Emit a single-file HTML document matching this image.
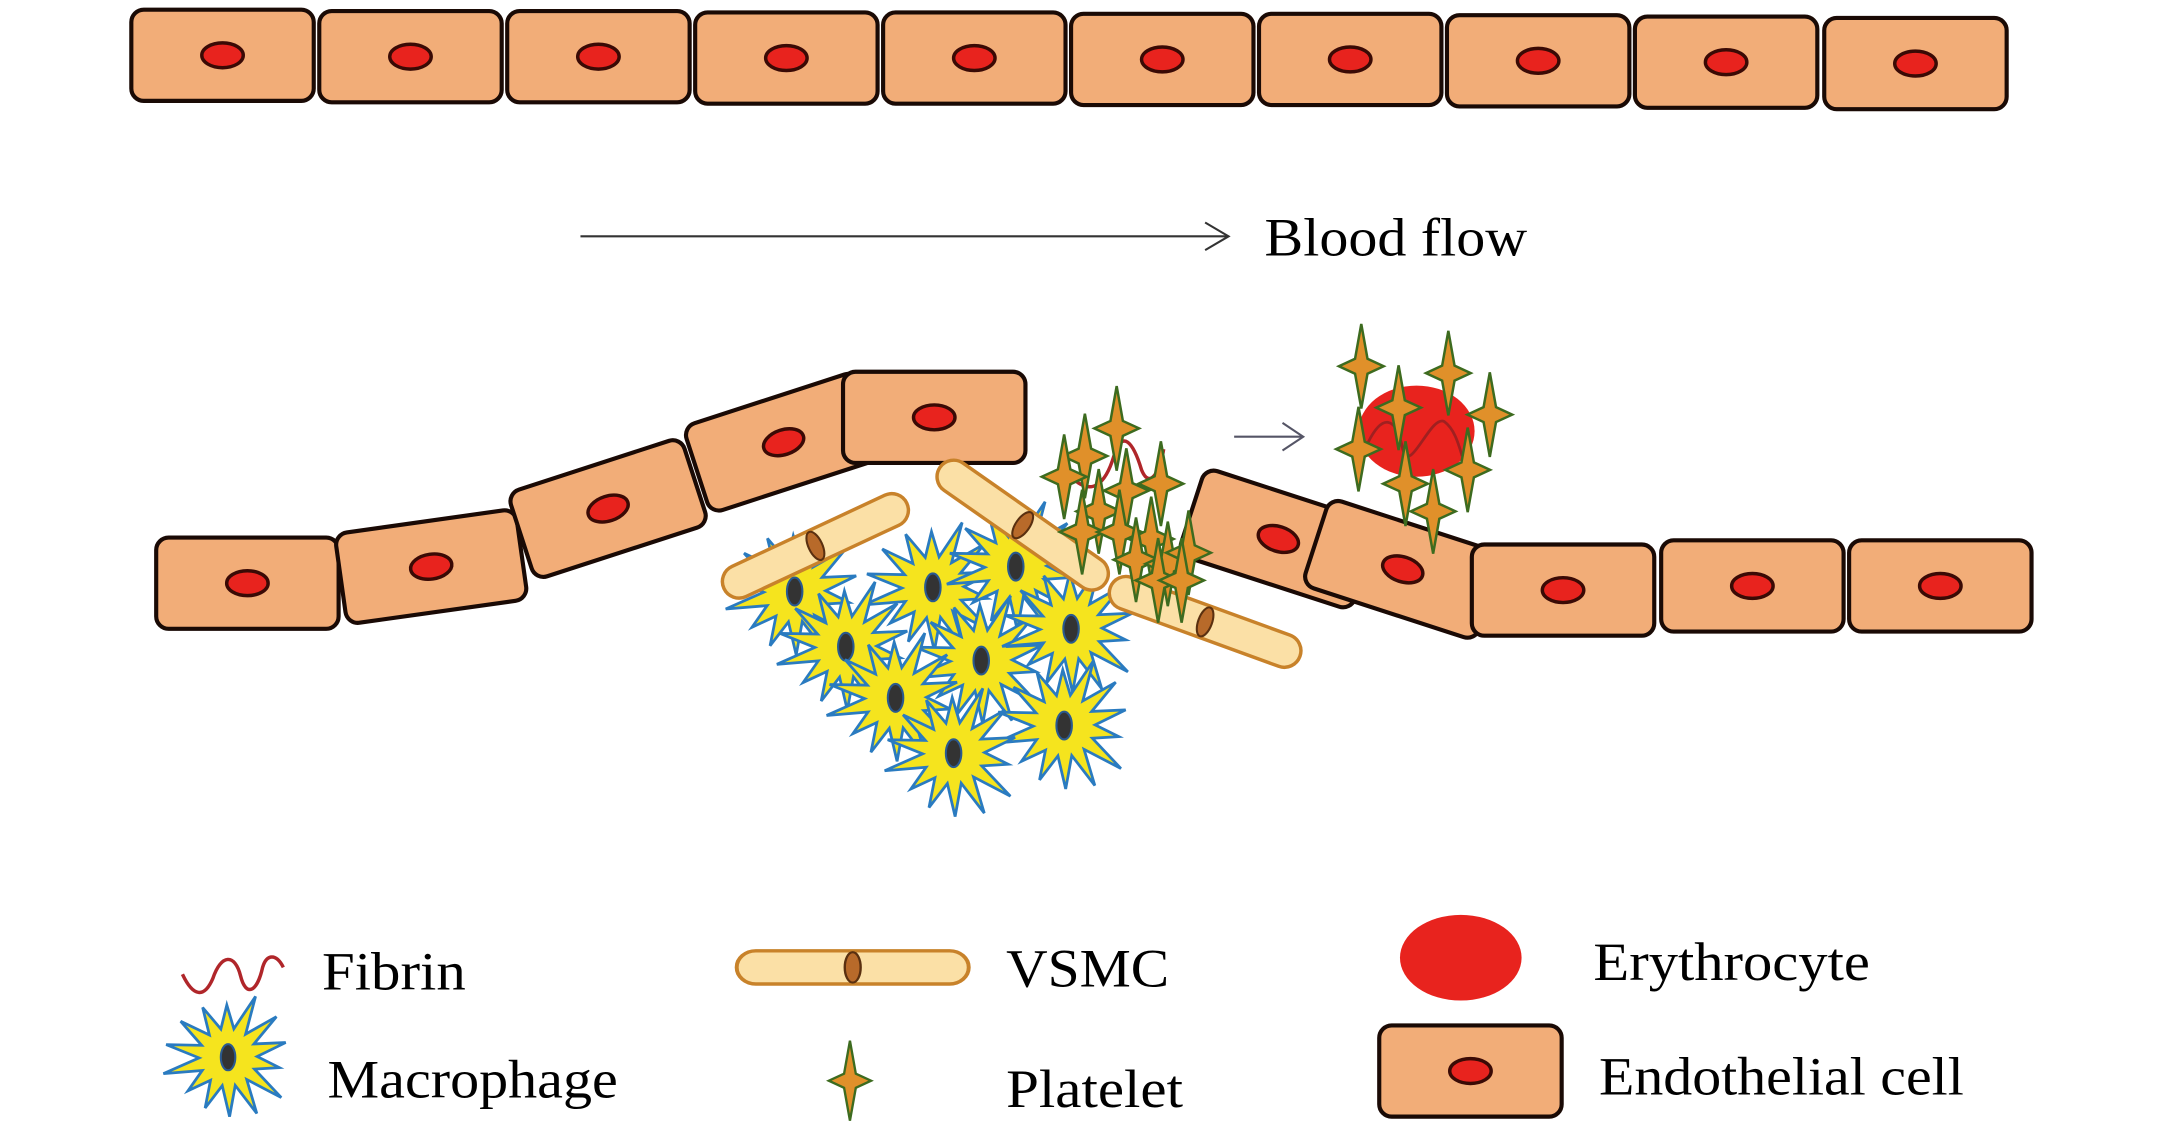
<!DOCTYPE html>
<html><head><meta charset="utf-8"><style>html,body{margin:0;padding:0;background:#fff;}svg{display:block}</style></head>
<body>
<svg id="s" width="2167" height="1127" viewBox="0 0 1568 815.5" xmlns="http://www.w3.org/2000/svg" font-family="Liberation Serif, serif">
<defs>
<g id="cell"><rect x="-66" y="-33" width="132" height="66" rx="9" fill="#f2ad78" stroke="#1a0a05" stroke-width="3"/><ellipse cx="0" cy="0" rx="15" ry="9" fill="#e8231e" stroke="#3a0a05" stroke-width="2.5"/></g>
<g id="vsmc"><rect x="-73" y="-12" width="146" height="24" rx="12" fill="#fbe0a6" stroke="#c8822a" stroke-width="2.5"/><ellipse cx="0" cy="0" rx="5" ry="11" fill="#b86a2a" stroke="#5a3010" stroke-width="1.5"/></g>
<g id="plt"><path d="M0,-34 L5,-6 L18,0 L5,6 L0,34 L-5,6 L-18,0 L-5,-6 Z" fill="#e0902a" stroke="#3d6b1f" stroke-width="2"/></g>
</defs>
<g id="topg"></g>
<line x1="420" y1="171" x2="888" y2="171" stroke="#333" stroke-width="1.5"/>
<polyline points="872,161 889,171 872,181" fill="none" stroke="#333" stroke-width="1.5"/>
<text x="915" y="185" font-size="39" textLength="190" lengthAdjust="spacingAndGlyphs">Blood flow</text>
<line x1="893" y1="316" x2="942" y2="316" stroke="#556" stroke-width="1.5"/>
<polyline points="928,306 943,316 928,326" fill="none" stroke="#556" stroke-width="1.5"/>
<g id="midg"></g>
<g id="legend">
<path d="M132,705 C140,722 148,722 154,708 C160,690 170,690 174,706 C178,722 186,718 190,700 C193,690 200,690 205,700" fill="none" stroke="#b0262a" stroke-width="2.5"/>
<text x="233" y="716" font-size="39" textLength="104" lengthAdjust="spacingAndGlyphs">Fibrin</text>
<text x="237" y="794" font-size="39" textLength="210" lengthAdjust="spacingAndGlyphs">Macrophage</text>
<use href="#vsmc" transform="translate(617,700) scale(1.15,1)"/>
<text x="728" y="714" font-size="39" textLength="118" lengthAdjust="spacingAndGlyphs">VSMC</text>
<use href="#plt" transform="translate(615,782) scale(0.85)"/>
<text x="728" y="801" font-size="39" textLength="128" lengthAdjust="spacingAndGlyphs">Platelet</text>
<ellipse cx="1057" cy="693" rx="44" ry="31" fill="#e8231e"/>
<text x="1153" y="709" font-size="39" textLength="200" lengthAdjust="spacingAndGlyphs">Erythrocyte</text>
<use href="#cell" transform="translate(1064,775)"/>
<text x="1157" y="792" font-size="39" textLength="264" lengthAdjust="spacingAndGlyphs">Endothelial cell</text>
</g>
</svg>
<script>
(function(){
var NS="http://www.w3.org/2000/svg";
function el(p,tag,attrs){var e=document.createElementNS(NS,tag);for(var k in attrs)e.setAttribute(k,attrs[k]);p.appendChild(e);return e;}
var tg=document.getElementById('topg'),mg=document.getElementById('midg'),lg=document.getElementById('legend');
var tx=[161,297,433,569,705,841,977,1113,1249,1386],ty=[40,41,41,42,42,43,43,44,45,46];
for(var i=0;i<10;i++)el(tg,'use',{href:'#cell',transform:'translate('+tx[i]+','+ty[i]+')'});
var cells=[[179,422,0],[312,410,-8],[440,368,-18],[567,320,-18],[676,302,0],[925,390,18],[1015,412,18],[1131,427,0],[1268,424,0],[1404,424,0]];
cells.forEach(function(c){el(mg,'use',{href:'#cell',transform:'translate('+c[0]+','+c[1]+') rotate('+c[2]+')'});});
function star(p,cx,cy,s){var n=14,pts=[];for(var i=0;i<2*n;i++){var r=(i%2?20:(36+((i*7)%5)*2.5))*s;var a=Math.PI*i/n+0.2;pts.push((cx+r*Math.cos(a)).toFixed(1)+','+(cy+r*Math.sin(a)).toFixed(1));}
el(p,'polygon',{points:pts.join(' '),fill:'#f5e41e',stroke:'#2a7bc0','stroke-width':2});
el(p,'ellipse',{cx:cx,cy:cy,rx:5*s,ry:9*s,fill:'#333','stroke':'#2a5a90','stroke-width':1.5});}
[[575,428],[675,425],[735,410],[612,468],[710,478],[775,455],[648,505],[770,525],[690,545]].forEach(function(m){star(mg,m[0],m[1],1.12);});
var v=[[590,395,-25],[740,380,35],[872,450,20]];
v.forEach(function(c){el(mg,'use',{href:'#vsmc',transform:'translate('+c[0]+','+c[1]+') rotate('+c[2]+')'});});
el(mg,'ellipse',{cx:1025,cy:312,rx:42,ry:33,fill:'#e8231e'});
el(mg,'path',{d:'M990,320 C1000,300 1010,300 1015,325 C1020,345 1035,300 1045,305 C1052,310 1055,320 1058,330',fill:'none',stroke:'#a02020','stroke-width':2});
el(mg,'path',{d:'M775,345 C790,360 800,350 806,330 C812,310 820,320 826,340 C832,355 840,340 842,325',fill:'none',stroke:'#b0262a','stroke-width':2.5});
[[785,330],[808,310],[770,345],[795,370],[815,355],[840,350],[783,385],[810,385],[833,390],[822,405],[845,408],[860,400],[838,420],[855,420],
 [985,265],[1048,270],[1012,295],[983,325],[1078,300],[1062,340],[1017,350],[1037,370]].forEach(function(p){el(mg,'use',{href:'#plt',transform:'translate('+p[0]+','+p[1]+') scale(0.9)'});});
star(lg,165,765,1.05);
})();
</script>
</body></html>
